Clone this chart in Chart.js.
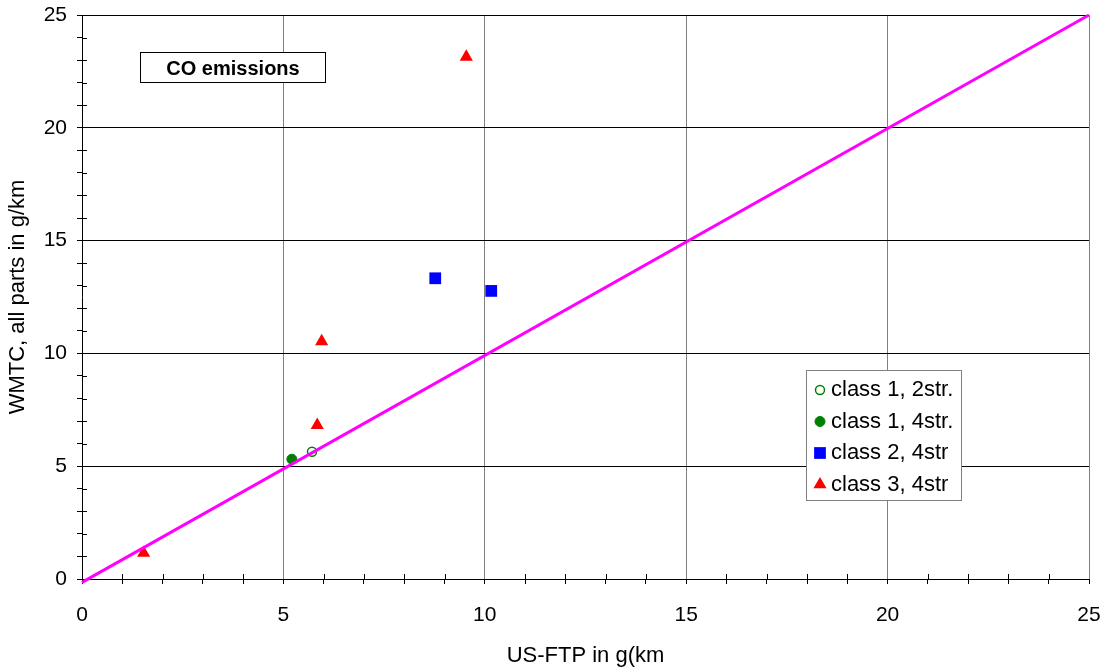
<!DOCTYPE html>
<html>
<head>
<meta charset="utf-8">
<script src="https://cdn.jsdelivr.net/npm/chart.js@4.4.1/dist/chart.umd.min.js"></script>
<style>
    html, body { margin: 0; padding: 0; background: #fff; }
    #wrap { width: 1109px; height: 671px; position: relative; }
</style>
</head>
<body>
<div id="wrap"><canvas id="chart"></canvas></div>
<script>
// values (g/km)
const class1_2strX = [5.71];
const class1_2strY = [5.64];
const class1_4strX = [5.21];
const class1_4strY = [5.31];
const class2_4strX = [8.77, 10.16];
const class2_4strY = [13.33, 12.77];
const class3_4strX = [1.53, 5.84, 5.95, 9.54];
const class3_4strY = [1.15, 6.82, 10.53, 23.14];
// 1:1 reference line
const refLineX = [0, 25];
const refLineY = [-0.15, 25];

const tickLabels = [0, 5, 10, 15, 20, 25];
const minorStep = 1;
const seriesNames = ['class 1, 2str.', 'class 1, 4str.', 'class 2, 4str', 'class 3, 4str'];
const boxTitle = 'CO emissions';

const FONT = "'Liberation Sans', Arial, sans-serif";

const toPoints = (xs, ys) => xs.map((x, i) => ({ x: x, y: ys[i] }));

function allTicks() {
    const out = [];
    for (let v = tickLabels[0]; v <= tickLabels[tickLabels.length - 1]; v += minorStep) out.push({ value: v });
    return out;
}

const isMajor = v => tickLabels.includes(v);

function noPad(s) {
    s.paddingTop = 0; s.paddingBottom = 0; s.paddingLeft = 0; s.paddingRight = 0;
}

// short tick halves on the inner side of the axes
const innerTicks = {
    id: 'innerTicks',
    beforeDatasetsDraw(chart) {
        const { ctx, chartArea, scales } = chart;
        ctx.save();
        ctx.strokeStyle = '#000';
        ctx.lineWidth = 1;
        ctx.beginPath();
        scales.x.ticks.forEach(t => {
            if (isMajor(t.value)) return;
            const px = Math.round(scales.x.getPixelForValue(t.value)) + 0.5;
            ctx.moveTo(px, chartArea.bottom);
            ctx.lineTo(px, chartArea.bottom - 5);
        });
        scales.y.ticks.forEach(t => {
            if (isMajor(t.value)) return;
            const py = Math.round(scales.y.getPixelForValue(t.value)) + 0.5;
            ctx.moveTo(chartArea.left, py);
            ctx.lineTo(chartArea.left + 5, py);
        });
        ctx.stroke();
        ctx.restore();
    }
};

// title box and legend box inside the plot
const boxes = {
    id: 'boxes',
    afterDraw(chart) {
        const ctx = chart.ctx;
        ctx.save();
        // title box
        ctx.fillStyle = '#fff';
        ctx.fillRect(140.5, 52.5, 185, 30);
        ctx.strokeStyle = '#000';
        ctx.lineWidth = 1;
        ctx.strokeRect(140.5, 52.5, 185, 30);
        ctx.fillStyle = '#000';
        ctx.font = 'bold 20px ' + FONT;
        ctx.textAlign = 'center';
        ctx.textBaseline = 'middle';
        ctx.fillText(boxTitle, 233, 69.5);

        // legend
        ctx.fillStyle = '#fff';
        ctx.fillRect(806.5, 370.5, 155, 130);
        ctx.strokeStyle = '#808080';
        ctx.strokeRect(806.5, 370.5, 155, 130);
        ctx.font = '22px ' + FONT;
        ctx.textAlign = 'left';
        const rowY = [390, 421.5, 453, 484.5];
        seriesNames.forEach((name, i) => {
            const ds = chart.data.datasets[i + 1];
            ctx.fillStyle = ds.backgroundColor;
            ctx.strokeStyle = ds.borderColor;
            ctx.lineWidth = ds.borderWidth;
            Chart.helpers.drawPoint(ctx, {
                pointStyle: ds.pointStyle,
                radius: ds.pointRadius,
                borderWidth: ds.borderWidth,
                rotation: 0
            }, 820, rowY[i]);
            ctx.fillStyle = '#000';
            ctx.fillText(name, 831, rowY[i]);
        });
        ctx.restore();
    }
};

const tickFont = { family: FONT, size: 21 };
const titleFont = { family: FONT, size: 22 };

new Chart(document.getElementById('chart'), {
    type: 'scatter',
    data: {
        datasets: [
            { type: 'line', data: toPoints(refLineX, refLineY), borderColor: '#FF00FF', borderWidth: 3,
              pointRadius: 0, fill: false, clip: false, tension: 0 },
            { label: seriesNames[0], data: toPoints(class1_2strX, class1_2strY), pointStyle: 'circle',
              pointRadius: 4.5, borderWidth: 1.5, borderColor: '#008000', backgroundColor: '#fff' },
            { label: seriesNames[1], data: toPoints(class1_4strX, class1_4strY), pointStyle: 'circle',
              pointRadius: 5, borderWidth: 1, borderColor: '#008000', backgroundColor: '#008000' },
            { label: seriesNames[2], data: toPoints(class2_4strX, class2_4strY), pointStyle: 'rect',
              pointRadius: 8.3, borderWidth: 0, borderColor: '#0000FF', backgroundColor: '#0000FF' },
            { label: seriesNames[3], data: toPoints(class3_4strX, class3_4strY), pointStyle: 'triangle',
              pointRadius: 7.6, borderWidth: 0, borderColor: '#FF0000', backgroundColor: '#FF0000' }
        ]
    },
    options: {
        responsive: true,
        maintainAspectRatio: false,
        animation: false,
        devicePixelRatio: 1,
        layout: { padding: { top: 15, right: 20, left: 0, bottom: 0 } },
        plugins: { legend: { display: false }, tooltip: { enabled: false } },
        scales: {
            x: {
                type: 'linear', position: 'bottom', min: 0, max: 25,
                afterBuildTicks: s => { s.ticks = allTicks(); },
                afterFit: s => { s.height = 92; noPad(s); },
                grid: {
                    color: c => (c.tick && isMajor(c.tick.value) && c.tick.value !== 0) ? '#808080' : 'rgba(0,0,0,0)',
                    tickColor: '#000', tickLength: 5, lineWidth: 1
                },
                border: { display: true, color: '#000', width: 1 },
                ticks: {
                    font: tickFont, color: '#000', padding: 19, autoSkip: false, maxRotation: 0,
                    callback: v => isMajor(v) ? String(v) : ''
                },
                title: { display: true, text: 'US-FTP in g(km', font: titleFont, color: '#000',
                         padding: { top: 0, bottom: 2 } }
            },
            y: {
                type: 'linear', position: 'left', min: 0, max: 25,
                afterBuildTicks: s => { s.ticks = allTicks(); },
                afterFit: s => { s.width = 82; noPad(s); },
                grid: {
                    color: c => (c.tick && isMajor(c.tick.value) && c.tick.value !== 0) ? '#000' : 'rgba(0,0,0,0)',
                    tickColor: '#000', tickLength: 5, lineWidth: 1
                },
                border: { display: true, color: '#000', width: 1 },
                ticks: {
                    font: tickFont, color: '#000', padding: 10, autoSkip: false,
                    callback: v => isMajor(v) ? String(v) : ''
                },
                title: { display: true, text: 'WMTC, all parts in g/km', font: titleFont, color: '#000',
                         padding: { top: 5, bottom: 0 } }
            }
        }
    },
    plugins: [innerTicks, boxes]
});
</script>
</body>
</html>
